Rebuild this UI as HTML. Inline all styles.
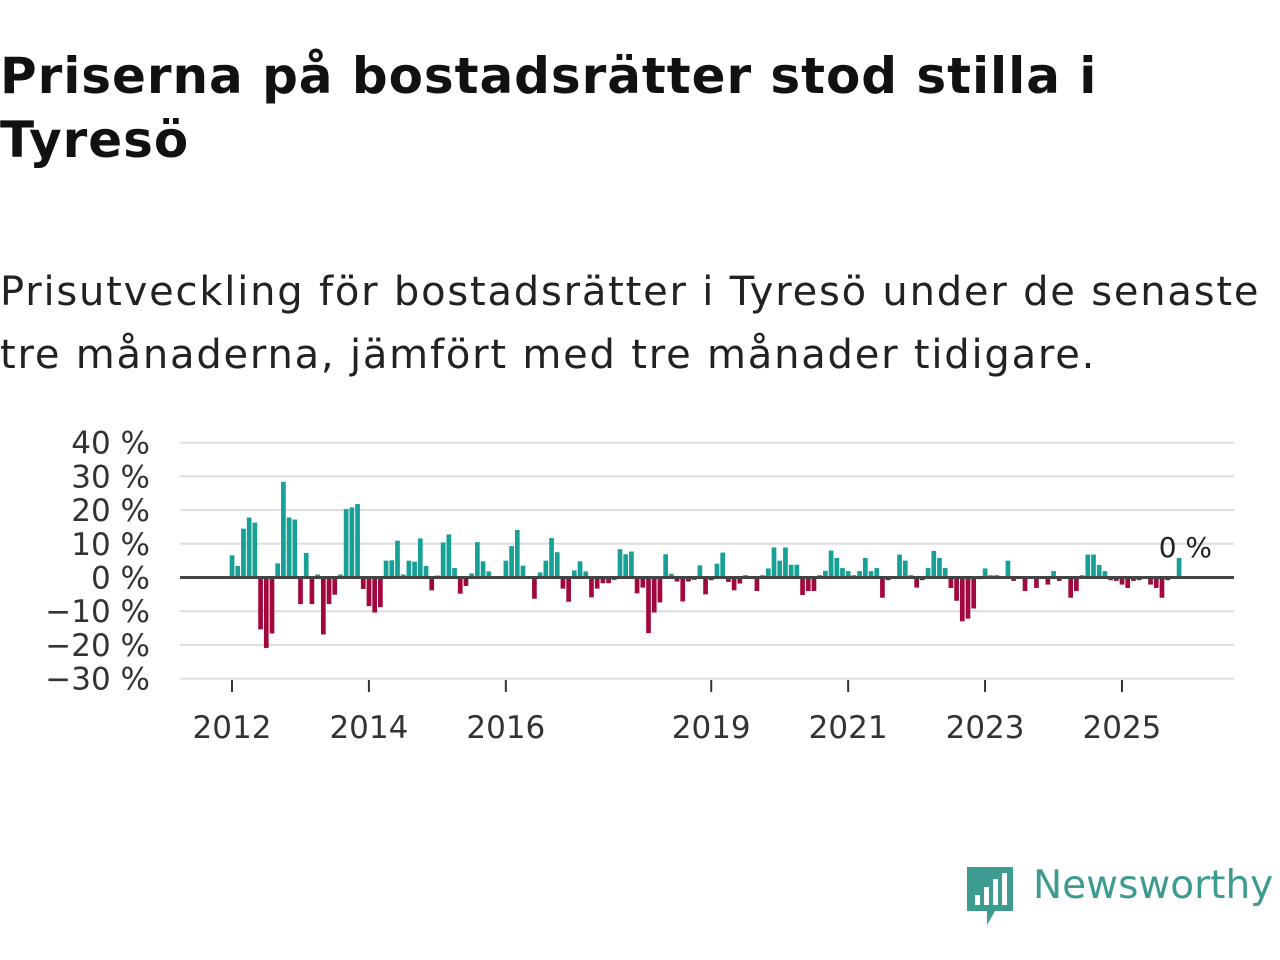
<!DOCTYPE html>
<html><head><meta charset="utf-8"><style>
body{margin:0;width:1280px;height:960px;background:#fff;overflow:hidden;font-family:"DejaVu Sans","Liberation Sans",sans-serif;}
#title{position:absolute;left:0;top:44px;font-size:50px;font-weight:bold;line-height:64px;color:#111;margin:0;letter-spacing:0.95px;white-space:nowrap;}
#sub{position:absolute;left:0;top:261px;font-size:40px;line-height:63px;color:#222;margin:0;letter-spacing:1.8px;white-space:nowrap;}
svg{position:absolute;left:0;top:0;}
</style></head><body>
<h1 id="title">Priserna på bostadsrätter stod stilla i<br>Tyresö</h1>
<p id="sub">Prisutveckling för bostadsrätter i Tyresö under de senaste<br>tre månaderna, jämfört med tre månader tidigare.</p>
<svg id="chart" width="1280" height="960"></svg>
<div style="position:absolute;left:965px;top:865px;">
<svg width="50" height="62" style="position:static"><path d="M2 2h46v44H30l-8 14v-14H2z" fill="#3d9b8f"/><rect x="10" y="30" width="5" height="10" fill="#fff"/><rect x="19" y="22" width="5" height="18" fill="#fff"/><rect x="28" y="14" width="5" height="26" fill="#fff"/><rect x="37" y="8" width="5" height="32" fill="#fff"/></svg>
<span style="position:absolute;left:68px;top:-2px;font-size:39px;color:#3d9b8f;white-space:nowrap;">Newsworthy</span></div>
<script>
const startYear = 2012;
const values = [6.6,3.4,14.5,17.8,16.3,-15.4,-20.9,-16.6,4.2,28.4,17.8,17.2,-7.9,7.3,-7.9,0.9,-16.9,-7.9,-5.1,0.9,20.3,20.8,21.8,-3.4,-8.5,-10.4,-8.8,5.0,5.1,10.9,0.9,5.0,4.7,11.6,3.4,-3.8,0.6,10.4,12.8,2.8,-4.8,-2.5,1.2,
10.5,4.8,1.8,0.2,0.2,5.0,9.3,14.1,3.5,0.3,-6.3,1.5,5.0,11.7,7.5,-3.3,-7.2,2.1,4.8,1.8,-5.9,-3.3,-1.7,-1.7,-0.7,8.4,6.9,7.7,-4.7,-3.0,-16.5,-10.4,-7.4,6.9,1.1,-1.2,-7.1,-1.2,-0.7,3.6,-5.0,-0.8,
4.1,7.4,-1.3,-3.8,-1.8,0.7,0.2,-4.0,0.7,2.7,8.9,5.0,8.9,3.8,3.8,-5.2,-4.0,-4.0,0.7,2.0,8.0,5.8,2.8,1.9,0.7,1.9,5.8,1.9,2.8,-6.0,-0.8,0.2,6.8,5.0,0.7,-3.0,-0.8,2.8,7.9,5.8,2.8,-3.1,-6.9,-13.0,-12.2,
-9.2,-0.5,2.7,0.7,0.7,0.2,5.0,-1.0,0.2,-4.0,0.2,-3.1,0.2,-2.1,1.9,-1.0,0.2,-6.0,-4.0,0.7,6.8,6.8,3.7,1.9,-0.8,-1.0,-2.1,-3.1,-1.0,-0.8,0.2,-2.1,-3.1,-6.0,-0.8,0.2,5.8];
const yTicks = [40,30,20,10,0,-10,-20,-30];
const xTickYears = [2012,2014,2016,2019,2021,2023,2025];
const lastLabel = "0 %";

const svg=document.getElementById('chart');const NS='http://www.w3.org/2000/svg';
const x0=232, pxYear=68.46, y0=577.5, pxPct=3.37;
const FF='DejaVu Sans, Liberation Sans, sans-serif';
function xm(i){return x0+i*pxYear/12;}
function xy(yr){return x0+(yr-startYear)*pxYear;}
function y(v){return y0-v*pxPct;}
function mk(t,a){const e=document.createElementNS(NS,t);for(const k in a)e.setAttribute(k,a[k]);svg.appendChild(e);return e;}
yTicks.forEach(v=>{
  if(v!==0){const g=mk('line',{x1:180,x2:1234,y1:y(v),y2:y(v),stroke:'#ddd','stroke-width':2});
  
  }
  const t=mk('text',{x:150,y:y(v)+11,'text-anchor':'end','font-size':31,fill:'#333','font-family':FF});
  t.textContent=(v<0?'\u2212'+(-v):v)+' %';
  
  
});
values.forEach((v,i)=>{
  const r=mk('rect',{x:xm(i)-2.3,width:4.7,y:Math.min(y(v),y0),height:Math.abs(y(v)-y0),fill:v>=0?'#17a095':'#a1083f'});
  
  
});
const z=mk('line',{x1:180,x2:1234,y1:y0,y2:y0,stroke:'#444','stroke-width':3});


xTickYears.forEach(yr=>{
  const l=mk('line',{x1:xy(yr),x2:xy(yr),y1:680,y2:692,stroke:'#333','stroke-width':2});
  
  
  const t=mk('text',{x:xy(yr),y:738,'text-anchor':'middle','font-size':31,fill:'#333','font-family':FF});
  t.textContent=yr;
  
  
});
const last=values.length-1;
const lb=mk('text',{x:xm(last)+33,y:557,'text-anchor':'end','font-size':28,fill:'#222','font-family':FF});
lb.textContent=lastLabel;


</script>
</body></html>
